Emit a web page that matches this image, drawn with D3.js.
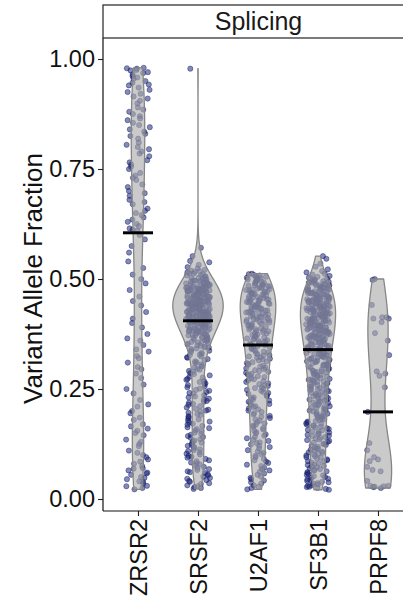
<!DOCTYPE html>
<html>
<head>
<meta charset="utf-8">
<script src="https://cdn.jsdelivr.net/npm/d3@7"></script>
<style>
  html, body { margin: 0; padding: 0; background: #fff; }
  svg { display: block; font-family: "Liberation Sans", Arial, sans-serif; }
</style>
</head>
<body>
<svg id="chart" width="403" height="603"></svg>
<script>
// Genes on the x axis, in display order
const genes = ["ZRSR2", "SRSF2", "U2AF1", "SF3B1", "PRPF8"];
const yTicks = [0, 0.25, 0.5, 0.75, 1];
const facetLabel = "Splicing";
const yTitle = "Variant Allele Fraction";

// Variant allele fractions per gene
const vafZRSR2 = [
  .980,.979,.978,.975,.974,.970,.968,.965,.961,.958,.955,.950,.946,.942,.940,
  .935,.930,.925,.921,.915,.910,.905,.899,.890,.885,.880,.875,
  .870,.865,.861,.855,.850,.845,.840,.835,.830,.825,.819,.810,.805,.800,.795,
  .790,.785,.779,.770,.765,.760,.755,.750,.741,.735,.730,.725,
  .715,.709,.700,.695,.689,.680,.675,.670,.660,.655,.650,.645,
  .640,.635,.630,.625,.620,.615,.612,.610,
  .600,.590,.575,.560,.540,.525,
  .510,.500,.490,.475,.460,.450,
  .440,.425,.410,.400,.390,.375,
  .365,.360,.350,.340,.335,.325,.320,.310,.300,.295,
  .285,.275,.260,.250,.240,.225,
  .215,.210,.200,.195,.185,.180,.170,.165,.160,.155,.150,.145,
  .135,.130,.125,.120,.110,.105,.100,.095,
  .090,.085,.080,.075,.070,.069,.065,.060,.058,.055,.050,.048,.045,.040,.039,.035,.030,.029,.025,.022
];

const vafSRSF2 = [
  .978,.571,.552,.541,.538,.532,.527,.524,.521,
  .519,.518,.516,.515,.513,.512,.511,.509,.508,.506,.505,.503,.502,.501,
  .499,.499,.498,.497,.496,.496,.495,.494,.493,.492,.492,.491,.490,.489,.488,.488,.487,.486,.485,.484,.484,.483,.482,.482,.481,.481,.480,.480,
  .479,.479,.478,.478,.477,.477,.476,.476,.475,.475,.474,.474,.473,.473,.472,.472,.471,.471,.470,.470,
  .469,.469,.468,.468,.467,.467,.466,.466,.465,.465,.464,.464,.463,.463,.462,.462,.461,.460,
  .459,.459,.458,.457,.457,.456,.456,.455,.454,.454,.453,.453,.452,.451,.451,.450,.450,.449,.449,.448,
  .447,.447,.446,.446,.445,.445,.444,.444,.443,.443,.442,.442,.442,.441,.441,.441,.440,.440,.458,.455,.452,.448,.444,.446,
  .439,.439,.438,.438,.437,.436,.436,.435,.435,.434,.433,.433,.432,.432,.431,.430,.430,.429,.429,.428,
  .427,.427,.426,.426,.425,.424,.424,.423,.423,.422,.421,.421,.420,.420,.437,.434,.431,.428,.425,.422,
  .419,.419,.418,.417,.417,.416,.415,.415,.414,.413,.413,.412,.411,.411,.410,.409,.409,.408,
  .407,.407,.406,.405,.405,.404,.403,.403,.402,.401,.401,.400,.418,.414,.410,.406,.402,.416,
  .399,.398,.398,.397,.396,.395,.395,.394,.393,.392,.391,.391,.390,.389,.388,.387,.387,.386,.385,.384,.383,.383,.382,.381,.381,.380,
  .379,.378,.376,.376,.375,.373,.372,.372,.370,.369,.368,.366,.366,.365,.363,.362,.362,.361,.360,.374,
  .359,.357,.356,.354,.353,.351,.349,.348,.346,.345,.344,.342,.341,.355,
  .338,.337,.334,.333,.330,.328,.327,.324,.322,.321,
  .318,.316,.313,.311,.309,.306,.303,.301,
  .299,.296,.294,.291,.289,.286,.284,.281,
  .278,.276,.273,.271,.268,.266,.263,.261,
  .259,.256,.254,.251,.248,.246,.243,.241,
  .239,.236,.233,.231,.228,.226,.223,.221,
  .219,.216,.214,.211,.208,.205,.203,.201,
  .199,.196,.193,.191,.188,.186,.183,.181,
  .178,.176,.174,.171,.169,.166,.163,.161,
  .159,.156,.154,.151,.148,.146,.143,.141,
  .139,.136,.133,.131,.128,.126,.123,.121,
  .119,.116,.113,.111,.109,.106,.103,.101,
  .098,.096,.094,.091,.088,.086,.083,.081,
  .079,.076,.073,.071,.068,.066,.063,.061,
  .059,.056,.054,.051,.048,.046,.043,.041,
  .039,.036,.034,.031,.029,.027,.025,.023
];

const vafU2AF1 = [
  .512,.511,.509,.508,.507,.505,.504,.503,.502,.501,
  .499,.498,.496,.495,.494,.492,.491,.490,.488,.487,.486,.485,.484,.483,.482,.481,
  .479,.478,.477,.476,.475,.474,.472,.471,.470,.469,.468,.467,.466,.465,.464,.463,.462,.461,
  .459,.458,.457,.456,.455,.454,.453,.452,.451,.450,.449,.448,.447,.445,.444,.443,.442,.441,
  .439,.438,.437,.436,.435,.433,.432,.431,.430,.429,.428,.426,.425,.424,.423,.422,.421,
  .419,.418,.417,.415,.414,.413,.412,.411,.409,.408,.407,.406,.404,.403,.402,.401,
  .399,.398,.396,.395,.394,.392,.391,.389,.388,.386,.385,.384,.382,.381,
  .379,.377,.376,.374,.373,.371,.370,.368,.367,.365,.364,.362,.361,
  .359,.358,.356,.355,.353,.351,.350,.348,.347,.345,.343,.341,
  .339,.337,.335,.333,.331,.329,.327,.326,.324,.322,.321,
  .319,.317,.315,.313,.311,.309,.307,.305,.303,.301,
  .299,.297,.295,.293,.291,.289,.287,.285,.283,.281,
  .279,.277,.274,.272,.270,.268,.266,.263,.261,
  .259,.257,.254,.252,.250,.248,.246,.243,.241,
  .239,.236,.234,.231,.229,.226,.224,.221,
  .219,.216,.214,.211,.209,.206,.204,.201,
  .198,.195,.192,.189,.187,.184,.181,
  .178,.175,.172,.169,.167,.164,.161,
  .158,.155,.152,.149,.147,.144,.141,
  .138,.135,.132,.129,.127,.124,.121,
  .118,.115,.111,.108,.105,.102,
  .098,.095,.091,.088,.085,.082,
  .078,.075,.071,.068,.065,.062,
  .058,.055,.051,.048,.045,.042,
  .038,.035,.031,.028,.025,.022
];

const vafSF3B1 = [
  .552,.546,
  .535,.528,.522,
  .518,.515,.512,.510,.507,.505,.503,.501,
  .499,.498,.497,.495,.495,.494,.492,.492,.491,.489,.489,.488,.486,.486,.485,.484,.483,.482,.481,.480,
  .479,.479,.478,.477,.476,.476,.475,.474,.473,.472,.472,.471,.470,.469,.468,.468,.467,.466,.465,.464,.464,.463,.462,.461,.460,
  .459,.459,.458,.457,.457,.456,.455,.455,.454,.453,.453,.452,.451,.451,.450,.449,.449,.448,.447,.447,.446,.445,.445,.444,.443,.442,.441,.440,
  .439,.439,.438,.437,.437,.436,.435,.435,.434,.433,.433,.432,.431,.431,.430,.429,.429,.428,.427,.427,.426,.425,.425,.424,.423,.422,.421,.420,
  .419,.419,.418,.417,.416,.416,.415,.414,.413,.413,.412,.411,.410,.410,.409,.408,.407,.407,.406,.405,.404,.404,.403,.402,.401,.401,.400,
  .399,.399,.398,.397,.396,.396,.395,.394,.393,.393,.392,.391,.390,.390,.389,.388,.387,.387,.386,.385,.384,.384,.383,.382,.381,.381,.380,
  .379,.378,.378,.377,.376,.375,.374,.374,.373,.372,.371,.370,.370,.369,.368,.367,.366,.366,.365,.364,.363,.362,.361,.360,
  .359,.358,.356,.356,.355,.353,.352,.352,.351,.349,.348,.348,.347,.345,.344,.344,.343,.342,.341,.340,
  .339,.338,.336,.336,.335,.333,.332,.331,.330,.329,.328,.327,.326,.325,.324,.323,.322,.321,.320,
  .319,.318,.317,.315,.314,.313,.312,.311,.309,.308,.307,.306,.305,.304,.303,.302,.301,
  .299,.298,.296,.295,.294,.292,.291,.290,.289,.288,.287,.285,.284,.283,.282,.281,
  .279,.278,.276,.275,.273,.272,.271,.270,.268,.267,.266,.264,.263,.262,.261,
  .259,.257,.256,.255,.253,.252,.250,.249,.248,.246,.245,.243,.242,.241,
  .239,.237,.236,.235,.233,.232,.230,.229,.228,.226,.225,.223,.222,.221,
  .219,.218,.216,.214,.213,.211,.210,.208,.207,.205,.204,.202,.201,
  .199,.197,.196,.194,.193,.191,.190,.188,.187,.185,.184,.182,.181,
  .179,.177,.176,.174,.172,.171,.169,.167,.166,.164,.163,.161,
  .159,.157,.156,.154,.152,.151,.149,.147,.146,.144,.143,.141,
  .139,.137,.135,.134,.132,.130,.128,.126,.125,.123,.121,
  .119,.117,.115,.114,.112,.110,.108,.106,.105,.103,.101,
  .099,.097,.095,.094,.092,.090,.088,.086,.085,.083,.081,
  .079,.077,.075,.074,.072,.070,.068,.066,.065,.063,.061,
  .059,.057,.055,.054,.052,.050,.048,.046,.045,.043,.041,
  .039,.038,.036,.035,.033,.031,.030,.028,.027,.025,.023,.021
];

const vafPRPF8 = [
  .500,.498,.441,.413,.410,.413,.410,.402,.377,.360,.327,.290,.285,.280,.254,
  .198,.127,.111,.095,.090,.086,.073,.066,.063,.041,.030,.030,.029,.028,.027,.025
];

const vafByGene = [vafZRSR2, vafSRSF2, vafU2AF1, vafSF3B1, vafPRPF8];

// ---- layout ----
const svg = d3.select("#chart");
const W = 403, H = 603;
const panel = { left: 103, right: 414, top: 38, bottom: 511 };

svg.append("rect").attr("width", W).attr("height", H).attr("fill", "#fff");

const x = d3.scalePoint().domain(genes).range([panel.left - 1, panel.right]).padding(0.6);
const step = x.step();
const y = d3.scaleLinear().domain([0, 1]).range([499, 59]);

// ---- kernel density (gaussian, nrd0 bandwidth, trimmed to data range) ----
function density(values) {
  const sorted = values.slice().sort(d3.ascending);
  const n = sorted.length;
  const sd = d3.deviation(sorted);
  const iqr = d3.quantile(sorted, 0.75) - d3.quantile(sorted, 0.25);
  const bw = 0.9 * Math.min(sd, iqr / 1.34) * Math.pow(n, -0.2);
  const [lo, hi] = d3.extent(sorted);
  const k = 1 / Math.sqrt(2 * Math.PI);
  return d3.range(512).map(i => {
    const v = lo + (hi - lo) * i / 511;
    const d = d3.sum(sorted, s => k * Math.exp(-0.5 * ((v - s) / bw) ** 2)) / (n * bw);
    return { v, d };
  });
}

const groups = genes.map((g, i) => ({
  gene: g,
  values: vafByGene[i],
  dens: density(vafByGene[i]),
  median: d3.median(vafByGene[i])
}));
// equal-area violins: every density shares the same width scale
const maxD = d3.max(groups, g => d3.max(g.dens, p => p.d));
const halfW = d3.scaleLinear().domain([0, maxD]).range([0, 0.42 * step]);

// ---- jittered points ----
const jitter = d3.randomUniform.source(d3.randomLcg(0.271828))(-0.2, 0.2);
const pts = [];
groups.forEach(g => g.values.forEach(v => pts.push({ gene: g.gene, v, dx: jitter() })));

svg.append("g")
  .selectAll("circle")
  .data(pts)
  .join("circle")
  .attr("cx", d => x(d.gene) + d.dx * step)
  .attr("cy", d => y(d.v))
  .attr("r", 2.6)
  .attr("fill", "#1f2a80")
  .attr("fill-opacity", 0.55)
  .attr("stroke", "#141a5c")
  .attr("stroke-opacity", 0.6)
  .attr("stroke-width", 0.7);

// ---- violins ----
const area = d3.area()
  .y(p => y(p.v));

svg.append("g")
  .selectAll("path")
  .data(groups)
  .join("path")
  .attr("d", g => area
      .x0(p => x(g.gene) - halfW(p.d))
      .x1(p => x(g.gene) + halfW(p.d))(g.dens))
  .attr("fill", "#aaaaaa")
  .attr("fill-opacity", 0.62)
  .attr("stroke", "#868686")
  .attr("stroke-width", 1.3)
  .attr("stroke-linejoin", "round");

// ---- median bars ----
svg.append("g")
  .selectAll("line")
  .data(groups)
  .join("line")
  .attr("x1", g => x(g.gene) - 0.25 * step)
  .attr("x2", g => x(g.gene) + 0.25 * step)
  .attr("y1", g => y(g.median))
  .attr("y2", g => y(g.median))
  .attr("stroke", "#000")
  .attr("stroke-width", 3);

// ---- axes ----
const yAxis = svg.append("g")
  .attr("transform", `translate(${panel.left},0)`)
  .call(d3.axisLeft(y).tickValues(yTicks).tickFormat(d3.format(".2f")).tickSize(5).tickPadding(3));
yAxis.select(".domain").remove();
yAxis.selectAll(".tick line").attr("stroke", "#222").attr("stroke-width", 1.1);
yAxis.selectAll(".tick text")
  .attr("fill", "#111")
  .style("font-size", "23.5px")
  .style("font-family", "'Liberation Sans', Arial, sans-serif");

const xAxis = svg.append("g")
  .attr("transform", `translate(0,${panel.bottom})`)
  .call(d3.axisBottom(x).tickSize(5));
xAxis.select(".domain").remove();
xAxis.selectAll(".tick line").attr("stroke", "#222").attr("stroke-width", 1.1);
xAxis.selectAll(".tick text")
  .attr("y", 0)
  .attr("x", -8)
  .attr("dy", "0.35em")
  .attr("transform", "rotate(-90)")
  .attr("text-anchor", "end")
  .attr("fill", "#111")
  .style("font-size", "23.5px")
  .style("font-family", "'Liberation Sans', Arial, sans-serif");

// axis lines
svg.append("line")
  .attr("x1", panel.left).attr("x2", panel.left)
  .attr("y1", panel.top).attr("y2", panel.bottom)
  .attr("stroke", "#111").attr("stroke-width", 1.2);
svg.append("line")
  .attr("x1", panel.left).attr("x2", panel.right)
  .attr("y1", panel.bottom).attr("y2", panel.bottom)
  .attr("stroke", "#111").attr("stroke-width", 1.2);

// ---- facet strip ----
svg.append("rect")
  .attr("x", panel.left).attr("y", 5)
  .attr("width", panel.right - panel.left).attr("height", panel.top - 5)
  .attr("fill", "#fff")
  .attr("stroke", "#333").attr("stroke-width", 1.3);
svg.append("text")
  .attr("x", (panel.left + panel.right) / 2)
  .attr("y", (5 + panel.top) / 2)
  .attr("dy", "0.35em")
  .attr("text-anchor", "middle")
  .attr("fill", "#1a1a1a")
  .style("font-size", "25px")
  .text(facetLabel);

// ---- y title ----
svg.append("text")
  .attr("transform", `translate(33,${(panel.top + panel.bottom) / 2 + 4}) rotate(-90)`)
  .attr("dy", "0.35em")
  .attr("text-anchor", "middle")
  .attr("fill", "#111")
  .style("font-size", "26px")
  .text(yTitle);
</script>
</body>
</html>
